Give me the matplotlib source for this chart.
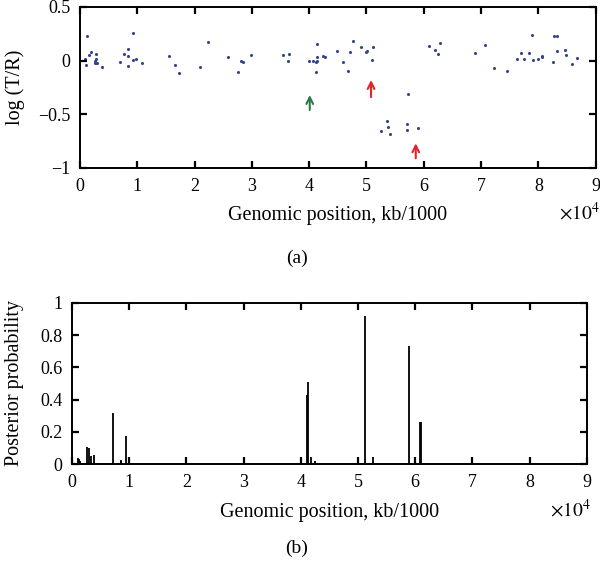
import matplotlib
matplotlib.use("Agg")
import matplotlib.pyplot as plt

plt.rcParams['font.family'] = ['Liberation Serif', 'DejaVu Serif']
plt.rcParams['mathtext.fontset'] = 'stix'

# (a) log ratio per probe, position in units of 1e4
pos_a = [0.09, 0.10, 0.13, 0.16, 0.20, 0.27, 0.27, 0.28, 0.29, 0.285, 0.28, 0.39,
         0.70, 0.77, 0.83, 0.84, 0.84, 0.92, 0.93, 0.98, 1.08, 1.55, 1.65, 1.73,
         2.09, 2.23, 2.59, 2.76, 2.81, 2.85, 2.99, 3.55, 3.63, 3.65, 4.00, 4.07,
         4.12, 4.12, 4.13, 4.13, 4.13, 4.24, 4.27, 4.49, 4.59, 4.68, 4.72, 4.76,
         4.90, 5.00, 5.01, 5.09, 5.11, 5.26, 5.36, 5.37, 5.41, 5.71, 5.71, 5.72,
         5.90, 6.09, 6.20, 6.25, 6.29, 6.89, 7.07, 7.23, 7.45, 7.63, 7.70, 7.75,
         7.84, 7.88, 7.91, 7.99, 8.06, 8.07, 8.25, 8.28, 8.32, 8.33, 8.47, 8.48,
         8.58, 8.68]
log_tr = [0.016, -0.04, 0.225, 0.05, 0.08, 0.0, -0.02, -0.02, -0.02, 0.015, 0.065, -0.055,
          -0.012, 0.065, -0.053, 0.105, 0.043, 0.003, 0.256, 0.015, -0.019, 0.04, -0.037, -0.114,
          -0.059, 0.17, 0.037, -0.108, -0.003, -0.012, 0.053, 0.055, -0.006, 0.058, -0.006, -0.006,
          -0.015, -0.105, 0.154, 0.031, -0.008, 0.046, 0.037, 0.086, -0.01, -0.093, 0.077, 0.182,
          0.13, 0.08, 0.09, 0.009, 0.13, -0.654, -0.56, -0.617, -0.685, -0.593, -0.648, -0.315,
          -0.63, 0.132, 0.10, 0.065, 0.16, 0.068, 0.142, -0.065, -0.096, 0.015, 0.068, 0.015,
          0.074, 0.24, 0.006, 0.018, 0.037, 0.045, -0.012, 0.225, 0.09, 0.225, 0.099, 0.052,
          -0.031, 0.022]

# arrows: (x, tip, tail, colour)
arrows = [(4.01, -0.32, -0.46, '#2b7a4b'),
          (5.08, -0.18, -0.34, '#e3232b'),
          (5.86, -0.77, -0.91, '#e3232b')]

# (b) posterior probability
pos_b = [0.10, 0.12, 0.14, 0.19, 0.23, 0.27, 0.29, 0.33, 0.39, 0.71, 0.85, 0.86,
         0.94, 1.6, 2.2, 4.11, 4.13, 4.17, 4.24, 4.45, 4.6, 4.7, 4.85, 5.125,
         5.27, 5.7, 5.90, 6.08, 6.10, 6.2, 8.45]
post = [0.04, 0.035, 0.02, 0.008, 0.008, 0.105, 0.10, 0.05, 0.058, 0.32, 0.027, 0.02,
        0.175, 0.004, 0.004, 0.43, 0.51, 0.047, 0.02, 0.004, 0.004, 0.004, 0.004, 0.918,
        0.047, 0.005, 0.732, 0.26, 0.26, 0.01, 0.005]

xlabel = "Genomic position, kb/1000"

fig = plt.figure(figsize=(6.0, 5.7), dpi=100)
ax1 = fig.add_axes([0.1333, 0.7053, 0.8595, 0.2825])
ax2 = fig.add_axes([0.12, 0.1854, 0.858, 0.2836])


def style(ax, ylab_x, ylabel, xlab_y):
    for s in ax.spines.values():
        s.set_linewidth(1.4)
    ax.tick_params(direction='in', length=5, width=1.6, top=True, right=True,
                   labelsize=13, pad=7)
    ax.set_xlim(0, 9)
    ax.set_xticks(range(10))
    ax.set_xlabel(xlabel, fontsize=14.5)
    ax.xaxis.set_label_coords(0.5, xlab_y)
    ax.xaxis.label.set_verticalalignment('baseline')
    ax.text(1.008, xlab_y, r'$\times 10^4$', transform=ax.transAxes,
            ha='right', va='baseline', fontsize=14)
    ax.set_ylabel(ylabel, fontsize=14.5)
    ax.yaxis.set_label_coords(ylab_x, 0.5)
    ax.yaxis.label.set_verticalalignment('center')


ax1.scatter(pos_a, log_tr, s=5, color='#34458a', linewidths=0)
for x, tip, tail, c in arrows:
    ax1.annotate('', xy=(x, tip), xytext=(x, tail),
                 arrowprops=dict(arrowstyle='->', color=c, lw=1.5,
                                 mutation_scale=12, shrinkA=0, shrinkB=0))
style(ax1, -0.126, 'log (T/R)', -0.323)
ax1.set_ylim(-1, 0.5)
ax1.set_yticks([-1, -0.5, 0, 0.5])
ax1.set_yticklabels(['\u22121', '\u22120.5', '0', '0.5'])

ax2.vlines(pos_b, 0, post, color='black', lw=1.3)
style(ax2, -0.111, 'Posterior probability', -0.326)
ax2.set_ylim(0, 1)
ax2.set_yticks([0, 0.2, 0.4, 0.6, 0.8, 1])
ax2.set_yticklabels(['0', '0.2', '0.4', '0.6', '0.8', '1'])

fig.text(297 / 600, 1 - 258 / 570, '(a)', ha='center', va='center', fontsize=14)
fig.text(297 / 600, 1 - 548 / 570, '(b)', ha='center', va='center', fontsize=14)

fig.savefig('out.png', dpi=100)
